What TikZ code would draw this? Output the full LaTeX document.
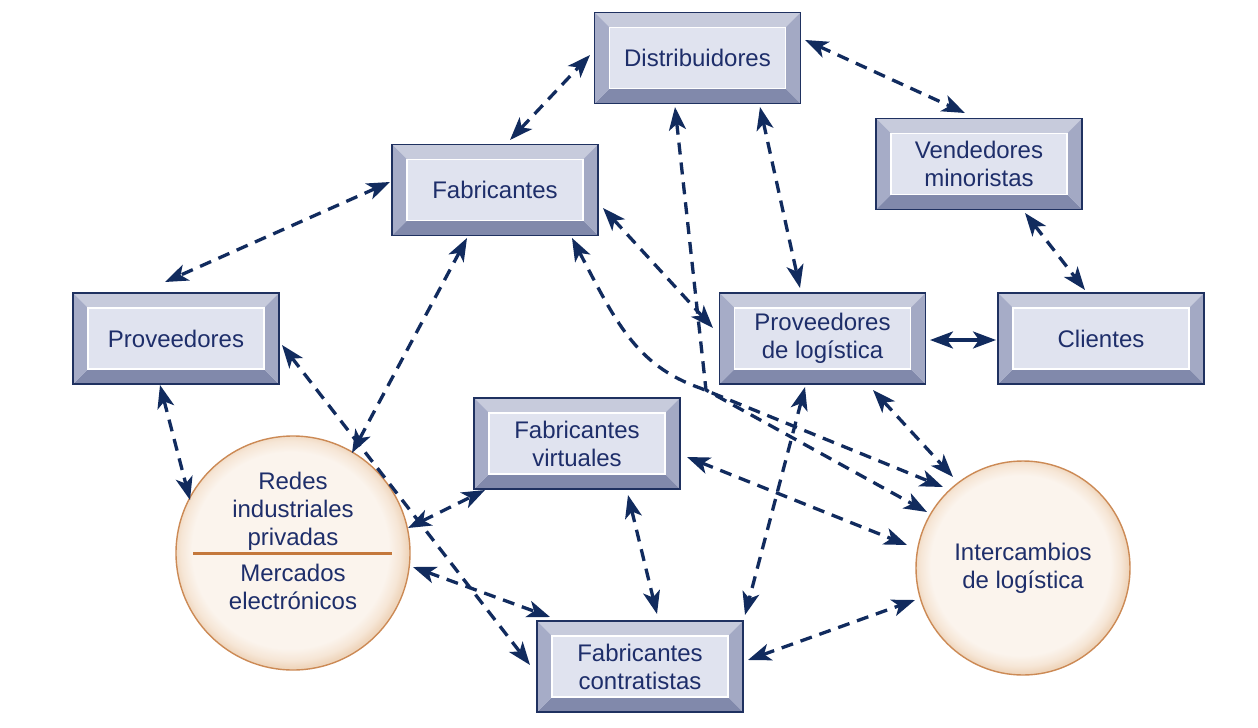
\documentclass[tikz,border=0pt]{standalone}
\usepackage{fontspec}
\setmainfont{Liberation Sans}
\usetikzlibrary{arrows.meta,calc}
\definecolor{bord}{HTML}{1F3160}
\definecolor{bevT}{HTML}{C7CBDC}
\definecolor{bevL}{HTML}{A6ACC7}
\definecolor{bevR}{HTML}{A3A9C4}
\definecolor{bevB}{HTML}{8189AB}
\definecolor{bevI}{HTML}{E0E3EF}
\definecolor{txt}{HTML}{1E2E6A}
\definecolor{arrc}{HTML}{112B5E}
\definecolor{circB}{HTML}{CC8A55}
\definecolor{circIn}{HTML}{FBF4ED}
\definecolor{circMid}{HTML}{F6E6D6}
\definecolor{circOut}{HTML}{EFD6BD}
\definecolor{divc}{HTML}{C4783C}
\pgfdeclareradialshading{ringshade}{\pgfpoint{-1bp}{1bp}}{color(0bp)=(circIn); color(21bp)=(circIn); color(23.5bp)=(circMid); color(25bp)=(circOut); color(50bp)=(circOut)}
\tikzset{
  bevbox/.style={rectangle, minimum width=206pt, minimum height=91pt, inner sep=0pt, outer sep=0pt,
    fill=bevI, draw=bord, line width=1.3pt, text=txt, align=center,
    font=\fontsize{24}{28}\selectfont,
    path picture={
      \fill[bevT] (path picture bounding box.north west) -- (path picture bounding box.north east)
        -- ([xshift=-15pt,yshift=-15pt]path picture bounding box.north east)
        -- ([xshift=15pt,yshift=-15pt]path picture bounding box.north west) -- cycle;
      \fill[bevB] (path picture bounding box.south west) -- (path picture bounding box.south east)
        -- ([xshift=-15pt,yshift=15pt]path picture bounding box.south east)
        -- ([xshift=15pt,yshift=15pt]path picture bounding box.south west) -- cycle;
      \fill[bevL] (path picture bounding box.south west) -- (path picture bounding box.north west)
        -- ([xshift=15pt,yshift=-15pt]path picture bounding box.north west)
        -- ([xshift=15pt,yshift=15pt]path picture bounding box.south west) -- cycle;
      \fill[bevR] (path picture bounding box.south east) -- (path picture bounding box.north east)
        -- ([xshift=-15pt,yshift=-15pt]path picture bounding box.north east)
        -- ([xshift=-15pt,yshift=15pt]path picture bounding box.south east) -- cycle;
      \draw[white, line width=1.1pt] ([xshift=15pt,yshift=-15pt]path picture bounding box.north west)
        rectangle ([xshift=-15pt,yshift=15pt]path picture bounding box.south east);
    }},
  disc/.style={circle, inner sep=0pt, outer sep=0pt, draw=circB, line width=1.4pt, shading=ringshade,
    text=txt, align=center, font=\fontsize{24}{28}\selectfont},
  ctext/.style={inner sep=0pt, text=txt, align=center, font=\fontsize{24}{28}\selectfont},
  conn/.style={draw=arrc, line width=3.3pt, dash pattern=on 12pt off 8pt,
    {Stealth[length=23pt,width=17pt,inset=6pt]}-{Stealth[length=23pt,width=17pt,inset=6pt]}}
}
\begin{document}
\begin{tikzpicture}[x=1pt,y=-1pt]
\useasboundingbox[fill=white] (0,0) rectangle (1258,728);
% boxes
\node[bevbox] (dist)  at (697.5,58)  {Distribuidores};
\node[bevbox] (vend)  at (979,164)   {Vendedores\\minoristas};
\node[bevbox] (fab)   at (495,190)   {Fabricantes};
\node[bevbox] (prov)  at (176,338.5) {Proveedores};
\node[bevbox] (plog)  at (822.5,338.5) {Proveedores\\de logística};
\node[bevbox] (cli)   at (1101,338.5) {Clientes};
\node[bevbox] (fvirt) at (577,443.5) {Fabricantes\\virtuales};
\node[bevbox] (fcont) at (640,666.5) {Fabricantes\\contratistas};
% circles
\node[disc, minimum size=234pt] (redes) at (293,553) {};
\draw[divc, line width=3pt] ($(redes)+(-100,0)$) -- ($(redes)+(99,0)$);
\node[ctext] (redesup) at ($(redes)+(0,-42)$) {Redes\\industriales\\privadas};
\node[ctext] (redeslo) at ($(redes)+(0,34)$) {Mercados\\electrónicos};
\node[disc, minimum size=214pt] (inter) at (1023,568) {Intercambios\\de logística};
% connectors
\draw[conn] ($(fab)+(15,-50)$) -- ($(dist)+(-107.5,-3)$);
\draw[conn] ($(dist)+(107.5,-18)$) -- ($(vend)+(-14,-51)$);
\draw[conn] ($(vend)+(46,49)$) -- ($(cli)+(-16,-48.5)$);
\draw[conn,solid] ($(plog)+(107.5,1.5)$) -- ($(cli)+(-105,1.5)$);
\draw[conn] ($(fab)+(-105,-8)$) -- ($(prov)+(-11,-56.5)$);
\draw[conn] ($(prov)+(-16,46.5)$) -- ($(redes)+(-103,-53)$);
\draw[conn] ($(fab)+(-28,48)$) -- ($(redes)+(59,-100)$);
\draw[conn] ($(prov)+(106,6.5)$) -- ($(fcont)+(-110,-1.5)$);
\draw[conn] ($(redes)+(115,-25)$) -- ($(fvirt)+(-92,46.5)$);
\draw[conn] ($(redes)+(120,14)$) -- ($(fcont)+(-90,-49.5)$);
\draw[conn] ($(fvirt)+(51,51.5)$) -- ($(fcont)+(17,-52.5)$);
\draw[conn] ($(dist)+(62.5,49)$) -- ($(plog)+(-22.5,-50.5)$);
\draw[conn] ($(dist)+(-22.5,49)$) -- ($(plog)+(-116.5,51.5)$) -- ($(inter)+(-96,-56)$);
\draw[conn] ($(fab)+(77,48)$) .. controls ($(fab)+(120,130)$) and ($(fab)+(140,175)$) .. ($(fab)+(205,198)$) -- ($(inter)+(-80,-81)$);
\draw[conn] ($(plog)+(50.5,51.5)$) -- ($(inter)+(-70,-91)$);
\draw[conn] ($(plog)+(-17.5,48.5)$) -- ($(fcont)+(105,-51.5)$);
\draw[conn] ($(fvirt)+(110,13.5)$) -- ($(inter)+(-116,-23)$);
\draw[conn] ($(fcont)+(108,-6.5)$) -- ($(inter)+(-108,32)$);
\draw[conn] ($(fab)+(108,18)$) -- ($(plog)+(-109.5,-10.5)$);
\end{tikzpicture}
\end{document}
